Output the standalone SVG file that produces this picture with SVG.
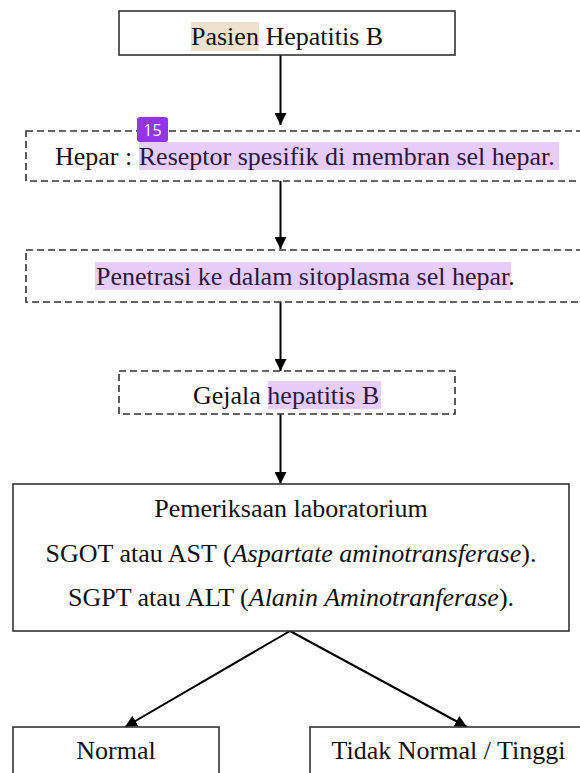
<svg xmlns="http://www.w3.org/2000/svg" width="580" height="773" viewBox="0 0 580 773">
<style>
.box{fill:#fff;stroke:#333;stroke-width:1.6}
.dash{stroke-dasharray:7,4}
.t{font-family:"Liberation Serif","Times New Roman",serif;font-size:26px;fill:#111}
.hl{fill:#e8cdfb}
.hlt{fill:#2b1740}
.edge{stroke:#000;stroke-width:2;fill:none}
.i{font-style:italic}
</style>
<defs>
<marker id="ah" viewBox="0 0 12 12" refX="12" refY="6" markerWidth="12" markerHeight="12" markerUnits="userSpaceOnUse" orient="auto">
<path d="M0,0 L12,6 L0,12 Z" fill="#000"/>
</marker>
</defs>
<rect width="580" height="773" fill="#fff"/>
<g id="connectors">
<line class="edge" x1="280.5" y1="55" x2="280.5" y2="125" marker-end="url(#ah)"/>
<line class="edge" x1="280.5" y1="181" x2="280.5" y2="249" marker-end="url(#ah)"/>
<line class="edge" x1="280.5" y1="302" x2="280.5" y2="371" marker-end="url(#ah)"/>
<line class="edge" x1="280.5" y1="414" x2="280.5" y2="484" marker-end="url(#ah)"/>
<line class="edge" x1="290" y1="631" x2="125" y2="727" marker-end="url(#ah)"/>
<line class="edge" x1="290" y1="631" x2="467" y2="727" marker-end="url(#ah)"/>
</g>
<g id="n1">
<rect class="box" x="119" y="11" width="336" height="44"/>
<rect x="191" y="22" width="68" height="29" fill="#efe2cc"/>
<text class="t" x="191" y="45">Pasien Hepatitis B</text>
</g>
<g id="n2">
<rect class="box dash" x="26" y="131" width="580" height="50"/>
<rect class="hl" x="139" y="142" width="420" height="28"/>
<text class="t" x="55" y="165">Hepar : <tspan class="hlt">Reseptor spesifik di membran sel hepar.</tspan></text>
</g>
<g id="badge">
<rect x="137" y="117" width="31" height="25" rx="3" fill="#9135e6"/>
<text x="152.5" y="136" text-anchor="middle" font-family="'Open Sans','DejaVu Sans',sans-serif" font-size="16" fill="#fff">15</text>
</g>
<g id="n3">
<rect class="box dash" x="26" y="250" width="580" height="52"/>
<rect class="hl" x="95" y="262" width="416" height="28"/>
<text class="t" x="96" y="285"><tspan class="hlt">Penetrasi ke dalam sitoplasma sel hepar</tspan>.</text>
</g>
<g id="n4">
<rect class="box dash" x="119" y="371" width="336" height="43"/>
<rect class="hl" x="268" y="381" width="113" height="28"/>
<text class="t" x="193" y="404">Gejala <tspan class="hlt">hepatitis B</tspan></text>
</g>
<g id="n5">
<rect class="box" x="13" y="484" width="556" height="147"/>
<text class="t" x="291" y="517" text-anchor="middle">Pemeriksaan laboratorium</text>
<text class="t" x="291" y="562" text-anchor="middle">SGOT atau AST (<tspan class="i">Aspartate aminotransferase</tspan>).</text>
<text class="t" x="291" y="606" text-anchor="middle">SGPT atau ALT (<tspan class="i">Alanin Aminotranferase</tspan>).</text>
</g>
<g id="n6">
<rect class="box" x="13" y="727" width="206" height="60"/>
<text class="t" x="116" y="759" text-anchor="middle">Normal</text>
</g>
<g id="n7">
<rect class="box" x="310" y="727" width="290" height="60"/>
<text class="t" x="448.5" y="759" text-anchor="middle">Tidak Normal / Tinggi</text>
</g>
</svg>
